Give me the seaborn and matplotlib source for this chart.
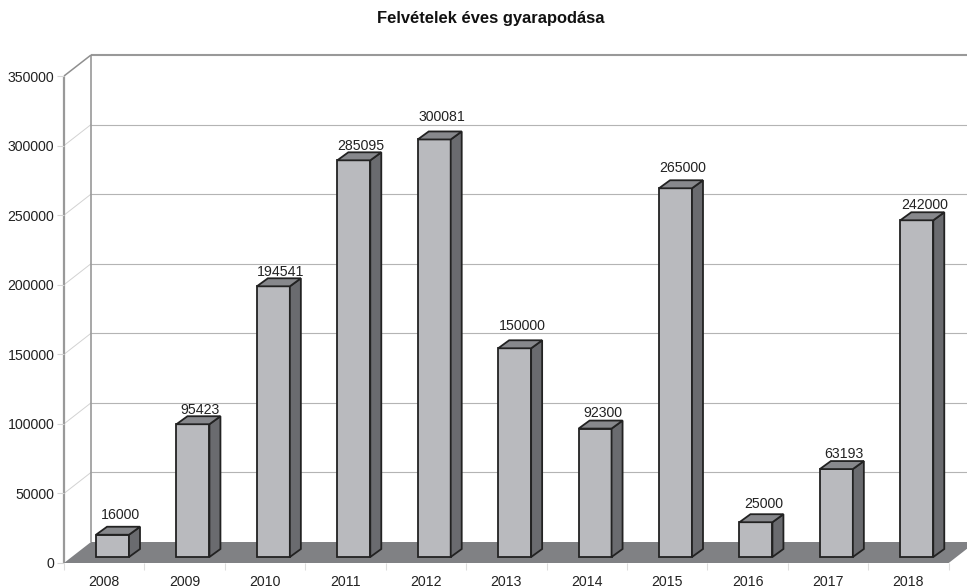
import numpy as np
import pandas as pd
import seaborn as sns
import matplotlib.pyplot as plt
from matplotlib.patches import Polygon

years = ["2008", "2009", "2010", "2011", "2012", "2013", "2014", "2015", "2016", "2017", "2018"]
values = [16000, 95423, 194541, 285095, 300081, 150000, 92300, 265000, 25000, 63193, 242000]
y_ticks = [0, 50000, 100000, 150000, 200000, 250000, 300000, 350000]

sns.set_theme(style="white")
plt.rcParams["font.family"] = ["Liberation Sans", "DejaVu Sans"]

W, H = 967, 588
fig = plt.figure(figsize=(W / 100, H / 100), dpi=100)
# front plane of the fake 3d box, in pixels
left, right, top, bottom = 64, 948.7, 76, 563
ax = fig.add_axes([left / W, 1 - bottom / H, (right - left) / W, (bottom - top) / H])

df = pd.DataFrame({"year": years, "value": values})
sns.barplot(data=df, x="year", y="value", color="#b9babe", saturation=1, width=0.41,
            edgecolor="#222222", linewidth=1.3, ax=ax)
ax.set_ylim(0, 350000)
ax.set_xlim(-0.5, 10.5)
ax.set_xlabel("")
ax.set_ylabel("")
sns.despine(ax=ax, left=True, bottom=True)

# pixel to data helpers
ux = 11 / (right - left)
uy = 350000 / (bottom - top)

# walls and floor
wx, wy = 27 * ux, 21 * uy
x0, x1 = -0.5, 10.5
wall = dict(clip_on=False, solid_capstyle="butt")
ax.add_patch(Polygon([(x0, 0), (x0 + wx, wy), (x1 + wx, wy), (x1, 0)], closed=True,
                     facecolor="#808184", edgecolor="none", clip_on=False, zorder=0.6))
for t in y_ticks[:-1]:
    if t > 0:
        ax.plot([x0, x0 + wx], [t, t + wy], color="#d2d2d2", lw=0.7, zorder=0.4, **wall)
        ax.plot([x0 + wx, x1 + wx], [t + wy, t + wy], color="#b4b4b4", lw=0.8, zorder=0.4, **wall)
ax.plot([x0, x0 + wx], [350000, 350000 + wy], color="#8f8f8f", lw=1.1, zorder=0.5, **wall)
ax.plot([x0 + wx, x1 + wx], [350000 + wy, 350000 + wy], color="#999999", lw=1.5, zorder=0.5, **wall)
ax.plot([x0, x0], [0, 350000], color="#999999", lw=1.6, zorder=0.5, **wall)
ax.plot([x0 + wx, x0 + wx], [wy, 350000 + wy], color="#8f8f8f", lw=1.1, zorder=0.5, **wall)

# the labels in the original do not sit at one fixed height over the bars
label_nudge = [0, 6, 6, 6, -2, -2, 4, 0, 2, 5, 5]

# bars sit on the floor, pushed back from the front plane
sx, sy = 8.3 / (right - left) * 11, 6 * uy
dx, dy = 11 * ux, 8 * uy
for bar, val, nudge in zip(ax.patches, values, label_nudge):
    bar.set_x(bar.get_x() + sx)
    bar.set_y(sy)
    bar.set_zorder(2)
    bar.set_clip_on(False)
    a, b = bar.get_x(), bar.get_x() + bar.get_width()
    y1 = sy + val
    ax.add_patch(Polygon([(b, sy), (b + dx, sy + dy), (b + dx, y1 + dy), (b, y1)], closed=True,
                         facecolor="#6a6b6f", edgecolor="#222222", lw=1.3, zorder=2, clip_on=False))
    ax.add_patch(Polygon([(a, y1), (a + dx, y1 + dy), (b + dx, y1 + dy), (b, y1)], closed=True,
                         facecolor="#87888c", edgecolor="#222222", lw=1.3, zorder=2, clip_on=False))
    ax.text((a + b + dx) / 2 + 2 * ux, y1 + dy + (5 - nudge) * uy, str(val), ha="center", va="bottom",
            fontsize=10.2, color="#222222", clip_on=False)

# ticks
ax.set_yticks(y_ticks)
ax.tick_params(axis="y", length=5, width=0.8, color="#d5d5d5", labelsize=10.2, labelcolor="#222222", pad=2, left=True)
ax.set_xticks(np.arange(-0.5, 11), minor=True)
ax.tick_params(axis="x", which="minor", length=5, width=0.8, color="#dddddd", bottom=True)
ax.tick_params(axis="x", which="major", length=0, labelsize=10.2, labelcolor="#222222", pad=8.5)

fig.text(491 / W, 1 - 19 / H, "Felvételek éves gyarapodása", ha="center", va="center",
         fontsize=11.9, fontweight="bold", color="#111111")

fig.savefig("out.png", dpi=100)
